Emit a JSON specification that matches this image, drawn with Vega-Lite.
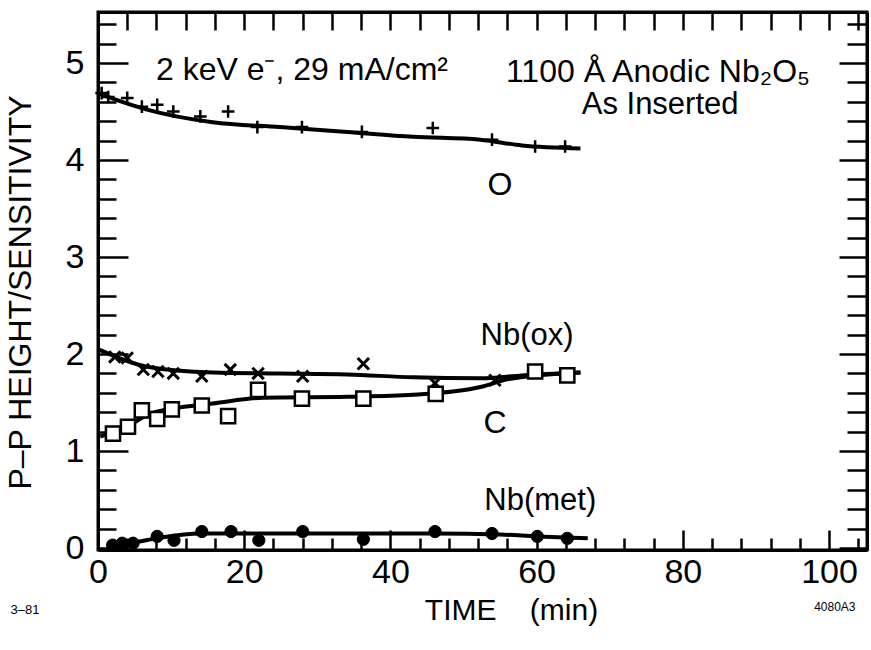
{
  "$schema": "https://vega.github.io/schema/vega-lite/v6.json",
  "width": 769,
  "height": 538,
  "autosize": "none",
  "padding": {"left": 98, "top": 12, "right": 4, "bottom": 100},
  "background": "white",
  "config": {
    "view": {"stroke": "black", "strokeWidth": 3},
    "font": "Liberation Sans",
    "axis": {
      "domainColor": "black",
      "domainWidth": 3,
      "tickColor": "black",
      "tickWidth": 2.5,
      "labelColor": "black",
      "labelFont": "Liberation Sans",
      "labelFontSize": 34,
      "titleColor": "black",
      "titleFont": "Liberation Sans",
      "titleFontWeight": "normal",
      "titleFontSize": 32,
      "grid": false
    }
  },
  "datasets": {
    "pts": [
      {"t": 0.5, "v": 4.69, "s": "O"}, {"t": 1.4, "v": 4.65, "s": "O"}, {"t": 4.0, "v": 4.64, "s": "O"},
      {"t": 6.0, "v": 4.55, "s": "O"}, {"t": 8.1, "v": 4.57, "s": "O"}, {"t": 10.3, "v": 4.50, "s": "O"},
      {"t": 14.0, "v": 4.45, "s": "O"}, {"t": 17.8, "v": 4.50, "s": "O"}, {"t": 21.8, "v": 4.34, "s": "O"},
      {"t": 27.9, "v": 4.34, "s": "O"}, {"t": 36.1, "v": 4.29, "s": "O"}, {"t": 45.8, "v": 4.33, "s": "O"},
      {"t": 53.9, "v": 4.21, "s": "O"}, {"t": 59.8, "v": 4.14, "s": "O"}, {"t": 63.9, "v": 4.14, "s": "O"},
      {"t": 2.3, "v": 1.97, "s": "Nb(ox)"}, {"t": 4.0, "v": 1.96, "s": "Nb(ox)"}, {"t": 6.2, "v": 1.84, "s": "Nb(ox)"},
      {"t": 8.2, "v": 1.82, "s": "Nb(ox)"}, {"t": 10.3, "v": 1.80, "s": "Nb(ox)"}, {"t": 14.2, "v": 1.77, "s": "Nb(ox)"},
      {"t": 18.1, "v": 1.84, "s": "Nb(ox)"}, {"t": 21.9, "v": 1.80, "s": "Nb(ox)"}, {"t": 28.0, "v": 1.77, "s": "Nb(ox)"},
      {"t": 36.3, "v": 1.90, "s": "Nb(ox)"}, {"t": 46.1, "v": 1.70, "s": "Nb(ox)"}, {"t": 54.3, "v": 1.73, "s": "Nb(ox)"},
      {"t": 59.8, "v": 1.82, "s": "Nb(ox)"},
      {"t": 2.05, "v": 1.18, "s": "C"}, {"t": 4.1, "v": 1.25, "s": "C"}, {"t": 6.0, "v": 1.42, "s": "C"},
      {"t": 8.1, "v": 1.33, "s": "C"}, {"t": 10.1, "v": 1.43, "s": "C"}, {"t": 14.2, "v": 1.47, "s": "C"},
      {"t": 17.8, "v": 1.36, "s": "C"}, {"t": 21.9, "v": 1.63, "s": "C"}, {"t": 27.9, "v": 1.54, "s": "C"},
      {"t": 36.3, "v": 1.54, "s": "C"}, {"t": 46.2, "v": 1.59, "s": "C"}, {"t": 59.8, "v": 1.82, "s": "C"},
      {"t": 64.2, "v": 1.78, "s": "C"},
      {"t": 2.0, "v": 0.03, "s": "Nb(met)"}, {"t": 3.3, "v": 0.05, "s": "Nb(met)"}, {"t": 4.8, "v": 0.05, "s": "Nb(met)"},
      {"t": 8.1, "v": 0.12, "s": "Nb(met)"}, {"t": 10.4, "v": 0.08, "s": "Nb(met)"}, {"t": 14.2, "v": 0.17, "s": "Nb(met)"},
      {"t": 18.2, "v": 0.17, "s": "Nb(met)"}, {"t": 22.0, "v": 0.08, "s": "Nb(met)"}, {"t": 28.0, "v": 0.17, "s": "Nb(met)"},
      {"t": 36.3, "v": 0.09, "s": "Nb(met)"}, {"t": 46.1, "v": 0.17, "s": "Nb(met)"}, {"t": 53.9, "v": 0.15, "s": "Nb(met)"},
      {"t": 60.1, "v": 0.12, "s": "Nb(met)"}, {"t": 64.2, "v": 0.10, "s": "Nb(met)"}
    ],
    "fit": [
      {"t": 0, "v": 4.69, "s": "O"}, {"t": 2.5, "v": 4.62, "s": "O"}, {"t": 6.7, "v": 4.52, "s": "O"},
      {"t": 15.7, "v": 4.39, "s": "O"}, {"t": 24.9, "v": 4.34, "s": "O"}, {"t": 34.1, "v": 4.29, "s": "O"},
      {"t": 43.1, "v": 4.24, "s": "O"}, {"t": 52.3, "v": 4.21, "s": "O"}, {"t": 58, "v": 4.15, "s": "O"},
      {"t": 66, "v": 4.12, "s": "O"},
      {"t": 0, "v": 2.05, "s": "Nb(ox)"}, {"t": 6.7, "v": 1.87, "s": "Nb(ox)"}, {"t": 15.7, "v": 1.81, "s": "Nb(ox)"},
      {"t": 24.9, "v": 1.80, "s": "Nb(ox)"}, {"t": 34.1, "v": 1.79, "s": "Nb(ox)"}, {"t": 43.1, "v": 1.76, "s": "Nb(ox)"},
      {"t": 52.3, "v": 1.75, "s": "Nb(ox)"}, {"t": 58, "v": 1.78, "s": "Nb(ox)"}, {"t": 66, "v": 1.81, "s": "Nb(ox)"},
      {"t": 0.3, "v": 1.15, "s": "C"}, {"t": 4.4, "v": 1.27, "s": "C"}, {"t": 6.7, "v": 1.37, "s": "C"},
      {"t": 11.2, "v": 1.45, "s": "C"}, {"t": 15.7, "v": 1.49, "s": "C"}, {"t": 22.6, "v": 1.55, "s": "C"},
      {"t": 34.1, "v": 1.56, "s": "C"}, {"t": 43.1, "v": 1.58, "s": "C"}, {"t": 52.3, "v": 1.66, "s": "C"},
      {"t": 56, "v": 1.74, "s": "C"}, {"t": 60, "v": 1.78, "s": "C"}, {"t": 66, "v": 1.81, "s": "C"},
      {"t": 1.5, "v": 0.03, "s": "Nb(met)"}, {"t": 5, "v": 0.06, "s": "Nb(met)"}, {"t": 8, "v": 0.10, "s": "Nb(met)"},
      {"t": 14, "v": 0.15, "s": "Nb(met)"}, {"t": 30, "v": 0.15, "s": "Nb(met)"}, {"t": 46, "v": 0.15, "s": "Nb(met)"},
      {"t": 55, "v": 0.14, "s": "Nb(met)"}, {"t": 60, "v": 0.12, "s": "Nb(met)"}, {"t": 67, "v": 0.10, "s": "Nb(met)"}
    ],
    "notes": [
      {"t": 27.9, "v": 4.93, "label": "2 keV e⁻, 29 mA/cm²", "size": 32, "w": "normal"},
      {"t": 76.6, "v": 4.91, "label": "1100 Å Anodic Nb₂O₅", "size": 32, "w": "normal"},
      {"t": 76.9, "v": 4.57, "label": "As Inserted", "size": 31, "w": "normal"},
      {"t": 55.0, "v": 3.74, "label": "O", "size": 32, "w": "normal"},
      {"t": 58.7, "v": 2.19, "label": "Nb(ox)", "size": 31, "w": "normal"},
      {"t": 54.3, "v": 1.29, "label": "C", "size": 32, "w": "normal"},
      {"t": 60.5, "v": 0.49, "label": "Nb(met)", "size": 31, "w": "normal"},
      {"t": -10.0, "v": -0.64, "label": "3–81", "size": 13, "w": "bold"},
      {"t": 100.8, "v": -0.61, "label": "4080A3", "size": 12, "w": "bold"}
    ]
  },
  "encoding": {
    "x": {"field": "t", "type": "quantitative", "scale": {"domain": [0, 105.2], "nice": false, "zero": false}},
    "y": {"field": "v", "type": "quantitative", "scale": {"domain": [-0.02, 5.526], "nice": false, "zero": false}}
  },
  "resolve": {"axis": {"x": "independent", "y": "independent"}},
  "layer": [
    {
      "data": {"name": "fit"},
      "mark": {"type": "line", "color": "black", "strokeWidth": 4, "interpolate": "monotone"},
      "encoding": {
        "detail": {"field": "s"},
        "x": {"field": "t", "type": "quantitative", "axis": {
          "orient": "bottom",
          "title": "TIME\u00a0\u00a0\u00a0\u00a0(min)",
          "titleFontSize": 30,
          "titleX": 413, "titleY": 60, "titleBaseline": "middle", "titleAnchor": "middle", "titleAlign": "center",
          "values": [0,4,8,12,16,20,24,28,32,36,40,44,48,52,56,60,64,68,72,76,80,84,88,92,96,100,104],
          "labelExpr": "datum.value % 20 === 0 ? datum.label : ''",
          "tickSize": {"condition": {"test": "datum.value % 20 === 0", "value": -20}, "value": -12},
          "labelPadding": 25,
          "labelFlush": false
        }},
        "y": {"field": "v", "type": "quantitative", "axis": {
          "orient": "left",
          "title": "P–P HEIGHT/SENSITIVITY",
          "titleX": -78, "titleY": 280, "titleAngle": -90, "titleAlign": "center", "titleBaseline": "middle",
          "values": [0,0.2,0.4,0.6,0.8,1,1.2,1.4,1.6,1.8,2,2.2,2.4,2.6,2.8,3,3.2,3.4,3.6,3.8,4,4.2,4.4,4.6,4.8,5,5.2,5.4],
          "labelExpr": "abs(datum.value - round(datum.value)) < 0.001 ? '' + round(datum.value) : ''",
          "tickSize": {"condition": {"test": "abs(datum.value - round(datum.value)) < 0.001", "value": -30}, "value": -18},
          "labelPadding": 44,
          "labelFlush": false
        }}
      }
    },
    {
      "data": {"name": "pts"},
      "transform": [{"filter": "datum.s === 'O'"}],
      "mark": {"type": "point", "shape": "M-1,0H1M0,-1V1", "filled": false, "stroke": "black", "strokeWidth": 2.5, "size": 160, "opacity": 1},
      "encoding": {
        "x": {"field": "t", "type": "quantitative", "axis": {
          "orient": "top", "title": null, "labels": false,
          "values": [0,4,8,12,16,20,24,28,32,36,40,44,48,52,56,60,64,68,72,76,80,84,88,92,96,100,104],
          "tickSize": -18
        }},
        "y": {"field": "v", "type": "quantitative", "axis": {
          "orient": "right", "title": null, "labels": false,
          "values": [0,0.2,0.4,0.6,0.8,1,1.2,1.4,1.6,1.8,2,2.2,2.4,2.6,2.8,3,3.2,3.4,3.6,3.8,4,4.2,4.4,4.6,4.8,5,5.2,5.4],
          "tickSize": {"condition": {"test": "abs(datum.value - round(datum.value)) < 0.001", "value": -28}, "value": -20}
        }}
      }
    },
    {
      "data": {"name": "pts"},
      "transform": [{"filter": "datum.s === 'Nb(ox)'"}],
      "mark": {"type": "point", "shape": "M-1,-1L1,1M-1,1L1,-1", "filled": false, "stroke": "black", "strokeWidth": 3, "size": 130, "opacity": 1},
      "encoding": {
        "x": {"field": "t", "type": "quantitative", "axis": null},
        "y": {"field": "v", "type": "quantitative", "axis": null}
      }
    },
    {
      "data": {"name": "pts"},
      "transform": [{"filter": "datum.s === 'C'"}],
      "mark": {"type": "point", "shape": "square", "filled": true, "fill": "white", "stroke": "black", "strokeWidth": 2.5, "size": 200, "opacity": 1},
      "encoding": {
        "x": {"field": "t", "type": "quantitative", "axis": null},
        "y": {"field": "v", "type": "quantitative", "axis": null}
      }
    },
    {
      "data": {"name": "pts"},
      "transform": [{"filter": "datum.s === 'Nb(met)'"}],
      "mark": {"type": "point", "shape": "circle", "filled": true, "fill": "black", "stroke": "black", "strokeWidth": 1, "size": 150, "opacity": 1},
      "encoding": {
        "x": {"field": "t", "type": "quantitative", "axis": null},
        "y": {"field": "v", "type": "quantitative", "axis": null}
      }
    },
    {
      "data": {"name": "notes"},
      "mark": {"type": "text", "color": "black", "font": "Liberation Sans", "align": "center", "baseline": "middle"},
      "encoding": {
        "x": {"field": "t", "type": "quantitative", "axis": null},
        "y": {"field": "v", "type": "quantitative", "axis": null},
        "text": {"field": "label"},
        "size": {"field": "size", "type": "quantitative", "scale": null},
        "fontWeight": {"field": "w", "type": "nominal", "scale": null, "legend": null}
      }
    }
  ]
}
